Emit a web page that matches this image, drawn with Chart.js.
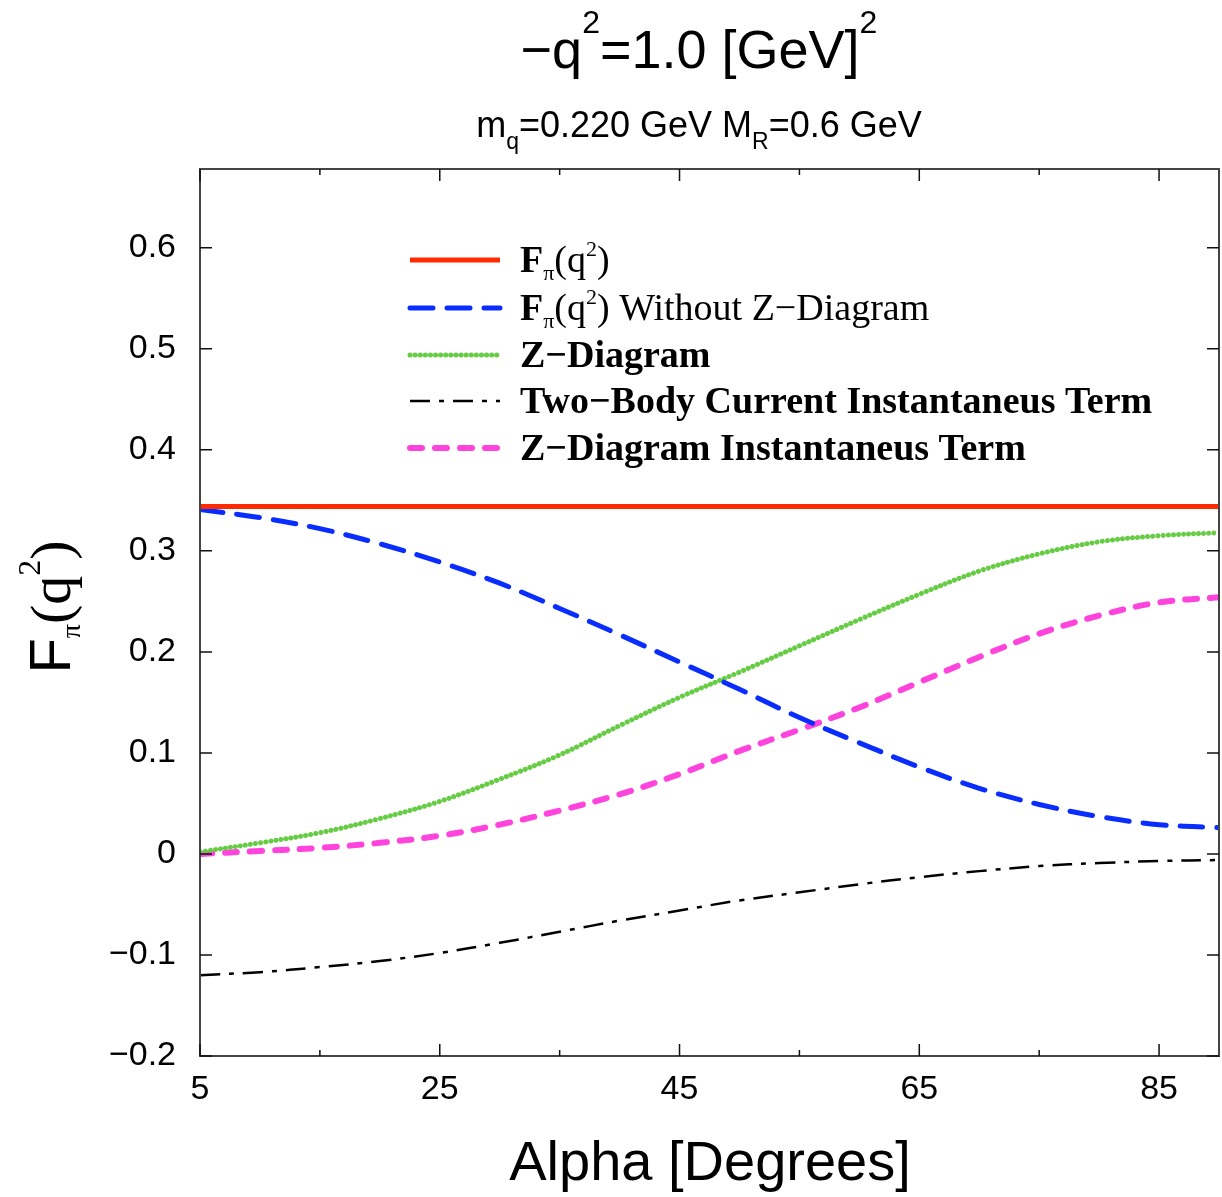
<!DOCTYPE html>
<html>
<head>
<meta charset="utf-8">
<script src="https://cdn.jsdelivr.net/npm/chart.js@4.4.1/dist/chart.umd.min.js"></script>
<style>
  body { margin: 0; background: #fff; }
  #wrap { width: 1222px; height: 1197px; }
</style>
</head>
<body>
<div id="wrap"><canvas id="formFactorChart"></canvas></div>
<script>
// alpha in degrees
const alpha = [5, 10, 15, 20, 25, 30, 35, 40, 45, 50, 55, 60, 65, 70, 75, 80, 85, 90]
const fpiFull = [0.344, 0.344, 0.344, 0.344, 0.344, 0.344, 0.344, 0.344, 0.344, 0.344, 0.344, 0.344, 0.344, 0.344, 0.344, 0.344, 0.344, 0.344]
const fpiNoZ = [0.341, 0.333, 0.322, 0.307, 0.289, 0.268, 0.243, 0.217, 0.190, 0.163, 0.135, 0.110, 0.086, 0.065, 0.049, 0.037, 0.029, 0.026]
const zDiagram = [0.002, 0.011, 0.021, 0.035, 0.052, 0.074, 0.098, 0.127, 0.155, 0.180, 0.206, 0.232, 0.257, 0.280, 0.297, 0.309, 0.315, 0.318]
const twoBodyInst = [-0.120, -0.117, -0.112, -0.106, -0.098, -0.088, -0.077, -0.066, -0.056, -0.046, -0.038, -0.030, -0.023, -0.017, -0.012, -0.009, -0.007, -0.006]
const zDiagramInst = [0.000, 0.003, 0.006, 0.011, 0.018, 0.029, 0.043, 0.059, 0.079, 0.102, 0.123, 0.145, 0.170, 0.195, 0.218, 0.236, 0.249, 0.254]

const xMajorTicks = [5, 25, 45, 65, 85]
const xMinorTicks = [15, 35, 55, 75]
const yTicks = [-0.2, -0.1, 0, 0.1, 0.2, 0.3, 0.4, 0.5, 0.6]

const SANS = "'Liberation Sans', Arial, sans-serif"
const SERIF = "'Liberation Serif', 'Times New Roman', serif"

const toPoints = (ys) => alpha.map((a, i) => ({ x: a, y: ys[i] }))

const series = [
    { data: fpiFull, color: "#ff2a00", width: 5, dash: [], cap: "butt" },
    { data: fpiNoZ, color: "#0a2dff", width: 5, dash: [23, 14], cap: "round" },
    { data: zDiagram, color: "#66cc44", width: 5, dash: [0.1, 5], cap: "round" },
    { data: twoBodyInst, color: "#000000", width: 2.5, dash: [20, 9, 5, 9], cap: "butt" },
    { data: zDiagramInst, color: "#ff44dd", width: 6, dash: [12, 13], cap: "round" },
]

// legend rows: text runs drawn after the line sample
const legendRows = [
    [{ t: "F", f: "bold 38px " + SERIF }, { t: "π", f: "22px " + SERIF, dy: 8 }, { t: "(q", f: "38px " + SERIF }, { t: "2", f: "22px " + SERIF, dy: -16 }, { t: ")", f: "38px " + SERIF }],
    [{ t: "F", f: "bold 38px " + SERIF }, { t: "π", f: "22px " + SERIF, dy: 8 }, { t: "(q", f: "38px " + SERIF }, { t: "2", f: "22px " + SERIF, dy: -16 }, { t: ") Without Z−Diagram", f: "38px " + SERIF }],
    [{ t: "Z−Diagram", f: "bold 38px " + SERIF }],
    [{ t: "Two−Body Current Instantaneus Term", f: "bold 38px " + SERIF }],
    [{ t: "Z−Diagram Instantaneus Term", f: "bold 38px " + SERIF }],
]

const drawRuns = (ctx, runs, x, y, align) => {
    let w = 0
    for (const r of runs) { ctx.font = r.f; w += ctx.measureText(r.t).width }
    let cx = align === "center" ? x - w / 2 : x
    for (const r of runs) {
        ctx.font = r.f
        ctx.fillText(r.t, cx, y + (r.dy || 0))
        cx += ctx.measureText(r.t).width
    }
}

const decorations = {
    id: "decorations",
    afterDraw(chart) {
        const { ctx, chartArea: a, scales } = chart
        const xs = scales.x, ys = scales.y
        ctx.save()
        ctx.fillStyle = "#000"
        ctx.textAlign = "left"
        ctx.textBaseline = "alphabetic"

        // frame
        ctx.strokeStyle = "#444"
        ctx.lineWidth = 2
        ctx.strokeRect(a.left, a.top, a.right - a.left, a.bottom - a.top)

        // inward ticks
        ctx.strokeStyle = "#111"
        ctx.lineWidth = 1.5
        ctx.beginPath()
        for (const v of xMajorTicks) {
            const p = xs.getPixelForValue(v)
            ctx.moveTo(p, a.bottom); ctx.lineTo(p, a.bottom - 12)
            ctx.moveTo(p, a.top); ctx.lineTo(p, a.top + 12)
        }
        for (const v of xMinorTicks) {
            const p = xs.getPixelForValue(v)
            ctx.moveTo(p, a.bottom); ctx.lineTo(p, a.bottom - 6)
            ctx.moveTo(p, a.top); ctx.lineTo(p, a.top + 6)
        }
        for (const v of yTicks) {
            const p = ys.getPixelForValue(v)
            ctx.moveTo(a.left, p); ctx.lineTo(a.left + 12, p)
            ctx.moveTo(a.right, p); ctx.lineTo(a.right - 12, p)
        }
        ctx.stroke()

        // title + subtitle
        drawRuns(ctx, [
            { t: "−q", f: "54px " + SANS }, { t: "2", f: "32px " + SANS, dy: -35 },
            { t: "=1.0 [GeV]", f: "54px " + SANS }, { t: "2", f: "32px " + SANS, dy: -35 },
        ], 699, 68, "center")
        drawRuns(ctx, [
            { t: "m", f: "36px " + SANS }, { t: "q", f: "23px " + SANS, dy: 12 },
            { t: "=0.220 GeV M", f: "36px " + SANS }, { t: "R", f: "23px " + SANS, dy: 12 },
            { t: "=0.6 GeV", f: "36px " + SANS },
        ], 699, 137, "center")

        // axis titles
        drawRuns(ctx, [{ t: "Alpha [Degrees]", f: "56px " + SANS }], 710, 1180, "center")
        ctx.save()
        ctx.translate(70, 607)
        ctx.rotate(-Math.PI / 2)
        drawRuns(ctx, [
            { t: "F", f: "58px " + SANS }, { t: "π", f: "28px " + SERIF, dy: 10 },
            { t: "(q", f: "58px " + SERIF }, { t: "2", f: "32px " + SERIF, dy: -30 },
            { t: ")", f: "58px " + SERIF },
        ], 0, 0, "center")
        ctx.restore()

        // legend
        const rowY = [260, 308, 355, 401, 448]
        legendRows.forEach((runs, i) => {
            const s = series[i]
            ctx.save()
            ctx.strokeStyle = s.color
            ctx.lineWidth = s.width
            ctx.lineCap = s.cap
            ctx.setLineDash(s.dash)
            ctx.beginPath()
            ctx.moveTo(410, rowY[i]); ctx.lineTo(500, rowY[i])
            ctx.stroke()
            ctx.restore()
            drawRuns(ctx, runs, 520, rowY[i] + 12, "left")
        })
        ctx.restore()
    }
}

new Chart(formFactorChart, {
    type: "line",
    data: {
        datasets: series.map((s) => ({
            data: toPoints(s.data),
            borderColor: s.color,
            borderWidth: s.width,
            borderDash: s.dash,
            borderCapStyle: s.cap,
            pointRadius: 0,
            fill: false,
            tension: 0.35,
        }))
    },
    options: {
        responsive: true,
        maintainAspectRatio: false,
        animation: false,
        layout: { padding: { top: 169, right: 3, left: 0, bottom: 0 } },
        plugins: { legend: { display: false }, tooltip: { enabled: false } },
        scales: {
            x: {
                type: "linear",
                min: 5,
                max: 90,
                afterBuildTicks: (scale) => { scale.ticks = xMajorTicks.map(v => ({ value: v })) },
                afterFit: (scale) => { scale.height = 141 },
                grid: { display: false, drawTicks: false },
                border: { display: false },
                ticks: { color: "#000", padding: 13, maxRotation: 0, font: { family: SANS, size: 34 } }
            },
            y: {
                type: "linear",
                min: -0.2,
                max: 0.678,
                afterBuildTicks: (scale) => { scale.ticks = yTicks.map(v => ({ value: v })) },
                afterFit: (scale) => { scale.width = 200 },
                grid: { display: false, drawTicks: false },
                border: { display: false },
                ticks: {
                    color: "#000",
                    padding: 24,
                    font: { family: SANS, size: 34 },
                    callback: (v) => {
                        const r = Math.round(v * 10) / 10
                        if (r === 0) return "0"
                        return (r < 0 ? "−" : "") + Math.abs(r).toFixed(1)
                    }
                }
            }
        }
    },
    plugins: [decorations]
})
</script>
</body>
</html>
